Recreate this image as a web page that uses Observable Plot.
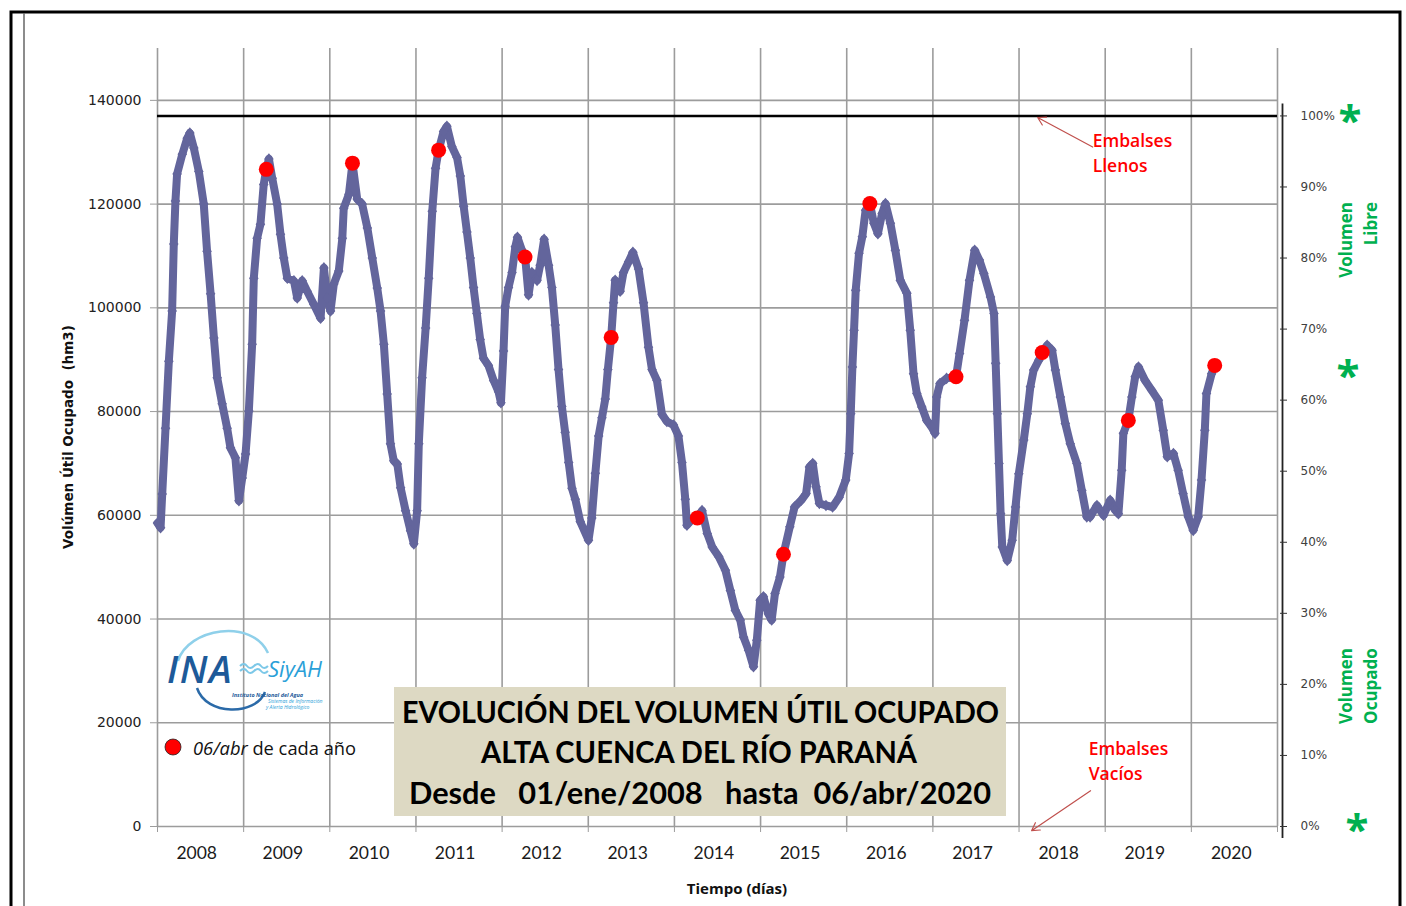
<!DOCTYPE html>
<html><head><meta charset="utf-8">
<script src="https://cdn.jsdelivr.net/npm/d3@7"></script>
<script src="https://cdn.jsdelivr.net/npm/@observablehq/plot@0.6"></script>
<style>
html,body{margin:0;padding:0;background:#fff;}
#wrap{position:relative;width:1406px;height:906px;overflow:hidden;background:#fff;}
#wrap > svg{position:absolute;left:0;top:0;}
</style></head><body><div id="wrap"></div>
<script>
// Días desde 01/ene/2008
const dias = [0,13,20,34,48,62,69,76,83,105,126,137,154,175,196,210,225,239,253,274,295,309,330,345,359,373,387,401,408,422,436,450,461,472,486,507,521,535,550,578,592,613,634,662,691,705,719,733,747,768,783,789,811,826,846,867,889,910,931,945,959,973,987,1001,1016,1030,1051,1072,1086,1100,1107,1121,1136,1149,1164,1178,1191,
1212,1226,1247,1269,1283,1297,1311,1325,1339,1353,1367,1381,1402,1424,1445,1455,1466,1473,1487,1502,1516,1525,1544,1557,1572,1586,1608,1621,1638,1657,1671,1685,1699,1713,1727,1742,1756,1770,1791,1826,1840,1855,1869,1883,1897,1908,1922,1932,1939,1960,1974,1996,2014,2038,2059,2080,2095,2116,2137,2158,2186,2207,2222,2236,2243,2271,2287,2307,
2329,2350,2378,2406,2427,2448,2469,2483,2504,2525,2539,2553,2567,2588,2602,2616,2637,2652,2679,2699,2727,2748,2762,2776,2790,2804,2832,2860,2888,2916,2930,2937,2944,2951,2958,2972,2986,3000,3018,3035,3052,3070,3084,3105,3126,3147,3175,3189,3203,3217,3238,3259,3280,3294,3301,3315,3343,3383,3398,3419,3440,3462,3482,3501,3529,3544,3551,3558,3565,3572,3579,3600,3621,3635,3649,3670,3685,3698,3712,3734,3748,3769,3790,3804,3825,3846,3867,3895,3916,3937,3951,3980,4008,4036,4057,4071,4085,4092,4113,4128,4142,4156,4184,4212,4240,4261,4278,4304,4324,4345,4367,4388,4409,4423,4437,4444,4466,4479];
// Volumen útil ocupado (hm3)
const volumen = [58500,57600,64100,76800,89700,99400,112300,120600,125800,129600,132700,133700,130800,126300,120000,110900,102700,94200,86500,81500,76800,73000,71100,62800,67200,71800,80100,93000,105700,113400,116100,123800,126700,128700,125000,120000,114200,109600,105700,105200,101900,105200,103200,100700,98000,107700,101900,99400,104600,107100,113400,119200,121900,127900,121000,120000,115400,109600,103800,99400,93000,83400,73800,70500,69900,65300,60900,57000,54500,60900,73800,86500,96100,105700,118600,126900,130400,
134000,135000,131100,129000,125400,119600,114600,109600,103900,98900,93900,90300,88900,86000,83800,81700,91700,100300,103900,106800,111800,113600,111100,110000,102500,106800,105300,108200,113200,108200,103900,96700,88100,81000,76000,70200,65200,63100,58800,55200,59500,68100,75300,78800,82400,88100,94300,101000,105300,103200,106800,108900,110700,107500,101000,92400,88100,86000,79500,78100,77400,75300,70200,63100,58100,59500,59500,60900,
56500,53900,52000,49400,45500,41700,39800,36500,34000,30800,35900,43600,44300,41000,39800,44900,48100,52500,57800,61600,62900,64200,69300,70000,65500,62300,61900,61600,63500,66800,71900,79600,88600,95700,103400,110500,113700,118800,120100,116300,114300,118200,120100,116300,111100,105300,102800,95700,87300,83500,80900,78300,77000,75800,82800,85400,86400,86700,91200,97600,105300,111100,109200,106600,102100,98900,89300,79600,70000,60300,53900,51300,55200,61600,68000,74500,79600,84800,88000,89900,91400,92800,91800,88000,82800,77700,73800,70000,64800,59700,59700,61900,60000,62900,61000,60300,68700,75800,78300,82800,86700,88600,86000,84100,82200,76400,71300,71900,68700,64200,59700,57100,59700,66800,76400,83500,87300,88900];
// 06/abr de cada año
const anosRojos = [2009,2010,2011,2012,2013,2014,2015,2016,2017,2018,2019,2020];
const volRojos = [126700,127900,130400,109800,94300,59500,52500,120100,86700,91400,78300,88900];
const anosEtiquetas = [2008,2009,2010,2011,2012,2013,2014,2015,2016,2017,2018,2019,2020];
const ticksVolumen = [0,20000,40000,60000,80000,100000,120000,140000];
const ticksPorcentaje = [0,10,20,30,40,50,60,70,80,90,100];
const CAPACIDAD = 137000;
const notasTexto = ["Embalses\nLlenos","Embalses\nVacíos"];
const notasDia = [3962, 3945];
const notasVol = [130200, 13000];
const flechaDesde = [[3962,131000],[3953,6900]];
const flechaHasta = [[3729,136700],[3703,-800]];

const inicio = new Date(Date.UTC(2008,0,1));
const diaDe = (a,m,d) => d3.utcDay.count(inicio, new Date(Date.UTC(a,m,d)));
const serie = dias.map((d,i)=>({dia:d, vol:volumen[i]}));
const rojos = anosRojos.map((a,i)=>({dia:diaDe(a,3,6), vol:volRojos[i]}));
const X_MAX = 13*365;
const grid = d3.range(0, X_MAX+1, 365);
const azul = "#63659c";
const gris = "#9c9c9c";
const rombo = {draw(ctx){ctx.moveTo(0,-5.8);ctx.lineTo(4.8,0);ctx.lineTo(0,5.8);ctx.lineTo(-4.8,0);ctx.closePath();}};
const notas = notasTexto.map((t,i)=>({t, dia:notasDia[i], vol:notasVol[i]}));
const flechas = flechaDesde.map((f,i)=>({x1:f[0],y1:f[1],x2:flechaHasta[i][0],y2:flechaHasta[i][1]}));

const plot = Plot.plot({
  width:1406, height:906, marginLeft:157, marginRight:129, marginTop:48, marginBottom:80,
  x:{domain:[0,X_MAX]}, y:{domain:[0,150000]},
  style:{background:"transparent", overflow:"visible"},
  marks:[
    Plot.ruleY(ticksVolumen, {stroke:gris, strokeWidth:1.6}),
    Plot.ruleX(grid, {stroke:gris, strokeWidth:1.6}),
    Plot.axisY(ticksVolumen, {anchor:"left", tickSize:7, tickPadding:9, stroke:gris, fill:"#222", tickFormat:d=>String(d), fontSize:14, fontFamily:"DejaVu Sans", label:null}),
    Plot.axisX(grid, {anchor:"bottom", tickSize:6, stroke:gris, tickFormat:()=>"", label:null}),
    Plot.text(anosEtiquetas, {x:a=>diaDe(a,5,15), frameAnchor:"bottom", dy:32, text:a=>String(a), fontFamily:"Lato", fontSize:17.5, fill:"#1a1a1a"}),
    Plot.ruleY([CAPACIDAD], {stroke:"black", strokeWidth:2.5}),
    Plot.line(serie, {x:"dia", y:"vol", stroke:azul, strokeWidth:8, strokeLinejoin:"round", strokeLinecap:"round"}),
    Plot.dot(serie, {x:"dia", y:"vol", symbol:rombo, fill:azul, stroke:null}),
    Plot.dot(rojos, {x:"dia", y:"vol", r:7.5, fill:"red", stroke:null}),
    Plot.ruleX([X_MAX], {y1:-2300, y2:139300, dx:5, stroke:"#222", strokeWidth:1.8}),
    Plot.axisY(ticksPorcentaje.map(p=>p/100*CAPACIDAD), {anchor:"right", tickSize:7, dx:2, tickPadding:14, stroke:"#333", fill:"#404040", tickFormat:v=>Math.round(v/CAPACIDAD*100)+"%", fontSize:12, fontFamily:"DejaVu Sans", label:null}),
    Plot.arrow(flechas, {x1:"x1", y1:"y1", x2:"x2", y2:"y2", stroke:"#c0504d", strokeWidth:1.2, headLength:11}),
    Plot.text(notas, {x:"dia", y:"vol", text:"t", textAnchor:"start", fill:"#ff0000", fontFamily:"Open Sans", fontWeight:600, fontSize:17.5, lineHeight:1.45})
  ]
});
const wrap = document.getElementById("wrap");
wrap.appendChild(plot);

const ns = "http://www.w3.org/2000/svg";
const ov = document.createElementNS(ns, "svg");
ov.setAttribute("width", 1406); ov.setAttribute("height", 906);
ov.setAttribute("style", "position:absolute;left:0;top:0;pointer-events:none");
ov.innerHTML = `
<path d="M11,906 V12 H1400 V906" fill="none" stroke="#000" stroke-width="3"/>
<line x1="24" y1="13" x2="24" y2="906" stroke="#666" stroke-width="1.5"/>
<text transform="translate(73,437) rotate(-90)" text-anchor="middle" font-family="DejaVu Sans" font-weight="bold" font-size="13.5" fill="#111" style="white-space:pre">Volúmen Útil Ocupado  (hm3)</text>
<text x="737" y="894" text-anchor="middle" font-family="Open Sans" font-weight="bold" font-size="15" fill="#111">Tiempo (días)</text>
<g>
  <path d="M178,661 C188,628 252,618 268,653" fill="none" stroke="#8fd0ea" stroke-width="2.5"/>
  <path d="M197,688 C206,716 256,716 265,692" fill="none" stroke="#2b6aa8" stroke-width="2.5"/>
  <text x="167" y="683" font-family="Open Sans" font-style="italic" font-weight="600" font-size="38" fill="#1d5a99" letter-spacing="1.5">INA</text>
  <path d="M240,666 q4,-4 7,0 t7,0 t7,0 t7,0" fill="none" stroke="#7cc8e8" stroke-width="2"/>
  <path d="M240,671 q4,-4 7,0 t7,0 t7,0 t7,0" fill="none" stroke="#7cc8e8" stroke-width="2"/>
  <text x="268" y="677" font-family="Open Sans" font-style="italic" font-size="22" fill="#2aa0d8">SiyAH</text>
  <text x="232" y="697" font-family="Open Sans" font-style="italic" font-weight="bold" font-size="5.5" fill="#1d5a99">Instituto Nacional del Agua</text>
  <text x="268" y="703" font-family="Open Sans" font-style="italic" font-size="5" fill="#2aa0d8">Sistemas de Información</text>
  <text x="266" y="709" font-family="Open Sans" font-style="italic" font-size="5" fill="#2aa0d8">y Alerta Hidrológico</text>
</g>
<circle cx="173" cy="747" r="8" fill="#ff0000" stroke="#222" stroke-width="0.8"/>
<text x="193" y="755" font-family="Open Sans" font-size="18.3" fill="#111"><tspan font-style="italic">06/abr</tspan> de cada año</text>
<rect x="394" y="687" width="612" height="129" fill="#ddd9c3"/>
<text x="402" y="723" font-family="Lato" font-weight="bold" font-size="30" fill="#000" textLength="597" lengthAdjust="spacingAndGlyphs">EVOLUCIÓN DEL VOLUMEN ÚTIL OCUPADO</text>
<text x="481" y="763" font-family="Lato" font-weight="bold" font-size="30" fill="#000" textLength="436" lengthAdjust="spacingAndGlyphs">ALTA CUENCA DEL RÍO PARANÁ</text>
<text x="409" y="804" font-family="Lato" font-weight="bold" font-size="30" fill="#000" textLength="582" lengthAdjust="spacingAndGlyphs" style="white-space:pre">Desde   01/ene/2008   hasta  06/abr/2020</text>
<g font-family="Open Sans" font-weight="bold" font-size="17" fill="#00b050">
  <text transform="translate(1352,202) rotate(-90)" text-anchor="end">Volumen</text>
  <text transform="translate(1377,202) rotate(-90)" text-anchor="end">Libre</text>
  <text transform="translate(1352,686) rotate(-90)" text-anchor="middle">Volumen</text>
  <text transform="translate(1377,686) rotate(-90)" text-anchor="middle">Ocupado</text>
</g>
<g font-family="Open Sans" font-weight="bold" font-size="42" fill="#00b050" text-anchor="middle">
  <text x="1350" y="135">*</text>
  <text x="1348" y="390">*</text>
  <text x="1357" y="844">*</text>
</g>`;
wrap.appendChild(ov);
</script>
</body></html>
